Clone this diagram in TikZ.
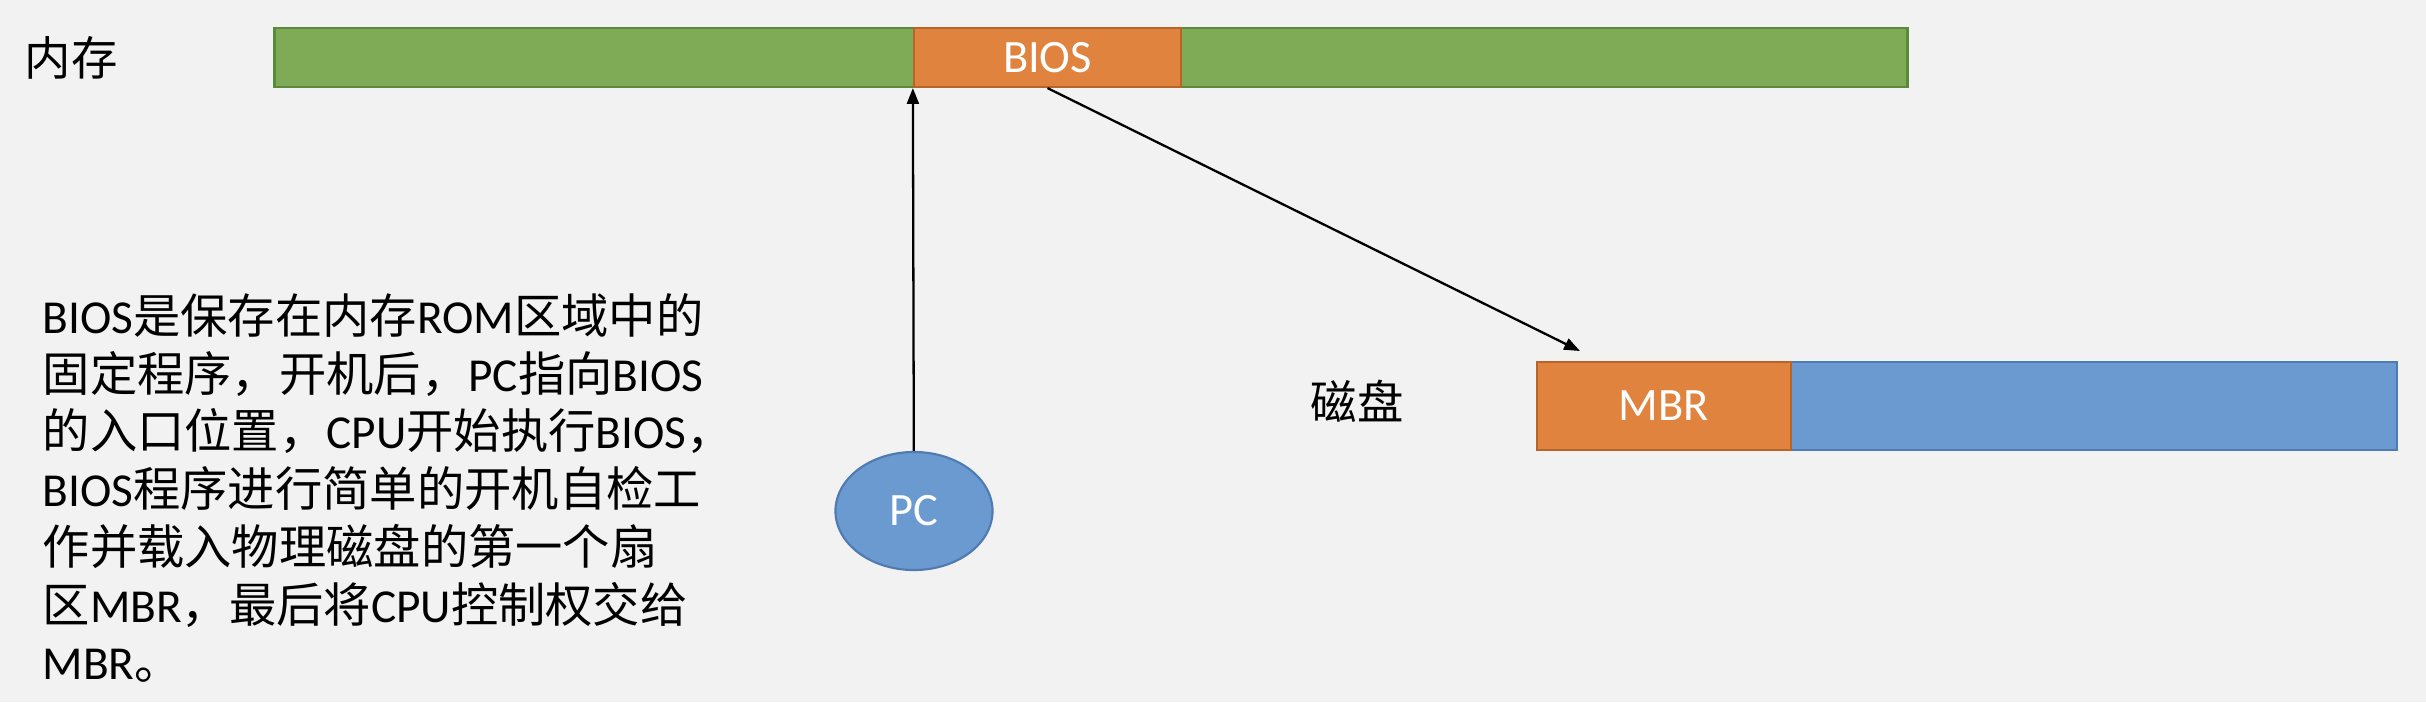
\documentclass[tikz,border=0pt]{standalone}
\usepackage{fontspec}
\setmainfont{Carlito}
\newfontfamily\cjk{Noto Sans CJK SC}
\usepackage{tikz}
\usetikzlibrary{shapes.geometric, arrows.meta, positioning}

\definecolor{bgGray}{HTML}{F2F2F2}
\definecolor{memGreen}{HTML}{7FAB57}
\definecolor{memGreenDark}{HTML}{5B8A3A}
\definecolor{romOrange}{HTML}{E0833F}
\definecolor{romOrangeDark}{HTML}{B5652A}
\definecolor{diskBlue}{HTML}{6A9ACF}
\definecolor{diskBlueDark}{HTML}{4E7BB2}

\begin{document}
\begin{tikzpicture}[
                x=0.01cm, y=-0.01cm, % one unit = one pixel of the page
                every node/.style={font=\fontsize{13.2}{16.4}\selectfont, inner sep=0pt}, % one size for all text
                cell/.style={draw, line width=0.6pt, minimum height=0.59cm}, % block of a strip
                memcell/.style={cell, fill=memGreen, draw=memGreenDark},
                romcell/.style={cell, fill=romOrange, draw=romOrangeDark, text=white},
                diskcell/.style={cell, fill=diskBlue, draw=diskBlueDark, minimum height=0.88cm},
                pcnode/.style={ellipse, draw=diskBlueDark, line width=0.6pt, fill=diskBlue, text=white,
                               minimum width=1.57cm, minimum height=1.18cm},
                link/.style={-{Triangle[length=4.5pt, width=3.4pt]}, line width=0.65pt}
                ]
                \fill[bgGray] (0,0) rectangle (2426,702);
                % memory strip
                \node[memcell, minimum width=16.32cm] (mem) at (1091,57.5) {};
                \node[romcell, minimum width=2.67cm] (bios) at (1047.5,57.5) {BIOS};
                \node (memlabel) at (71,58) {\cjk 内存};
                % disk strip
                \node[diskcell, minimum width=8.6cm] (disk) at (1967,406) {};
                \node[romcell, minimum width=2.54cm, minimum height=0.88cm] (mbr) at (1664,406) {MBR};
                \node (disklabel) at (1357,401) {\cjk 磁盘};
                % program counter
                \node[pcnode] (pc) at (914,511) {PC};
                \coordinate (mbrhit) at (1580,351);
                \draw[link] (pc) -- (bios.south west);
                \draw[link] (bios.south) -- (mbrhit);
                % explanation
                \node[anchor=north west, align=left, font=\fontsize{13.45}{16.4}\selectfont] (note) at (42,293) {%
                    BIOS{\cjk 是保存在内存}ROM{\cjk 区域中的}\\
                    {\cjk 固定程序，开机后，}PC{\cjk 指向}BIOS\\
                    {\cjk 的入口位置，}CPU{\cjk 开始执行}BIOS{\cjk ，}\\
                    BIOS{\cjk 程序进行简单的开机自检工}\\
                    {\cjk 作并载入物理磁盘的第一个扇}\\
                    {\cjk 区}MBR{\cjk ，最后将}CPU{\cjk 控制权交给}\\
                    MBR{\cjk 。}};
            \end{tikzpicture}
\end{document}
